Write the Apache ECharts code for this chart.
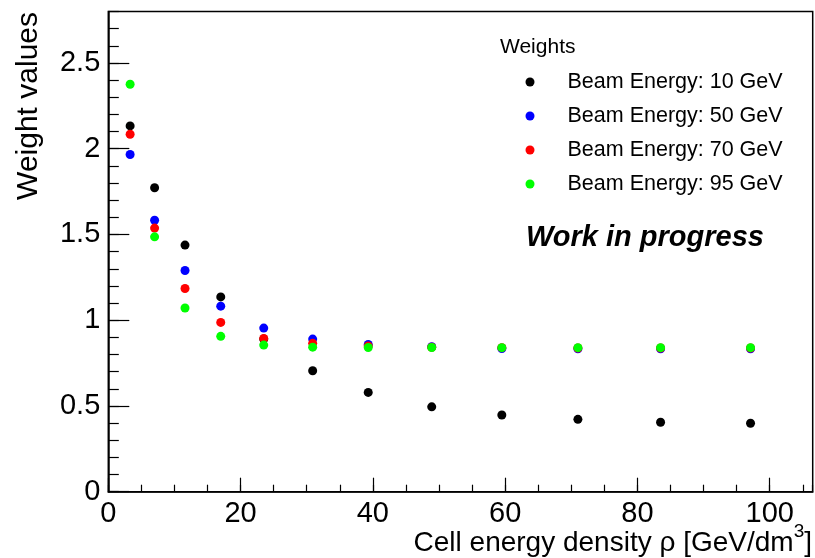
<!DOCTYPE html>
<html>
<head>
<meta charset="utf-8">
<script src="https://cdn.jsdelivr.net/npm/echarts@6/dist/echarts.min.js"></script>
<style>
  html, body { margin: 0; padding: 0; background: #fff; }
  #chart { width: 815px; height: 558px; }
</style>
</head>
<body>
<div id="chart"></div>
<script>
  // cell energy density bin centres (GeV/dm^3)
  var xCenters = [3.3, 7.0, 11.6, 17.0, 23.5, 30.9, 39.3, 48.9, 59.5, 71.0, 83.5, 97.1];
  // weights per beam energy
  var w10 = [2.133, 1.772, 1.438, 1.136, 0.890, 0.705, 0.579, 0.495, 0.447, 0.422, 0.405, 0.399];
  var w50 = [1.966, 1.583, 1.290, 1.082, 0.954, 0.890, 0.859, 0.845, 0.835, 0.833, 0.833, 0.833];
  var w70 = [2.084, 1.537, 1.185, 0.987, 0.894, 0.865, 0.850, 0.842, 0.840, 0.838, 0.838, 0.838];
  var w95 = [2.376, 1.486, 1.071, 0.906, 0.855, 0.843, 0.841, 0.841, 0.840, 0.840, 0.840, 0.840];
  var seriesNames = ['Beam Energy: 10 GeV', 'Beam Energy: 50 GeV', 'Beam Energy: 70 GeV', 'Beam Energy: 95 GeV'];
  var seriesColors = ['#000000', '#0000ff', '#ff0000', '#00ff00'];

  var font = '"Liberation Sans", Arial, Helvetica, sans-serif';

  function pairs(ys) {
    return xCenters.map(function (x, i) { return [x, ys[i]]; });
  }

  var chart = echarts.init(document.getElementById('chart'));

  var allW = [w10, w50, w70, w95];
  var series = allW.map(function (ys, i) {
    return {
      name: seriesNames[i],
      type: 'scatter',
      xAxisIndex: 0,
      yAxisIndex: 0,
      symbol: 'circle',
      symbolSize: 9,
      itemStyle: { color: seriesColors[i], opacity: 1 },
      data: pairs(ys)
    };
  });

  var tickStyle = { color: '#000', width: 1.2 };

  chart.setOption({
    animation: false,
    backgroundColor: '#fff',
    grid: {
      left: 108.3, right: 2.3, top: 11.5, bottom: 66.3,
      show: true, borderColor: '#000', borderWidth: 1.5, backgroundColor: 'transparent'
    },
    title: [
      {
        text: 'Weights', left: 500, top: 37, padding: 0,
        textStyle: { fontSize: 21, fontWeight: 'normal', color: '#000', fontFamily: font }
      },
      {
        text: 'Work in progress', left: 526, top: 223, padding: 0,
        textStyle: { fontSize: 29, fontWeight: 'bold', fontStyle: 'italic', color: '#000', fontFamily: font }
      }
    ],
    legend: {
      data: seriesNames,
      orient: 'vertical',
      left: 525.5,
      top: 71,
      padding: 0,
      itemGap: 12,
      itemWidth: 9,
      itemHeight: 9,
      icon: 'circle',
      textStyle: { fontSize: 21.5, color: '#000', fontFamily: font, padding: [0, 0, 0, 28] }
    },
    xAxis: [
      {
        type: 'value', min: 0, max: 106.5, interval: 20, position: 'bottom',
        axisLine: { onZero: false, lineStyle: { color: '#000', width: 1.5 } },
        axisTick: { inside: true, length: 14, lineStyle: tickStyle },
        axisLabel: { showMaxLabel: false, margin: 8, fontSize: 29, color: '#000', fontFamily: font },
        splitLine: { show: false }
      },
      {
        type: 'value', min: 0, max: 106.5, interval: 5, position: 'bottom',
        axisLine: { show: false },
        axisTick: { inside: true, length: 7, lineStyle: tickStyle },
        axisLabel: { show: false },
        splitLine: { show: false }
      }
    ],
    yAxis: [
      {
        type: 'value', min: 0, max: 2.8, interval: 0.5, position: 'left',
        axisLine: { show: true, onZero: false, lineStyle: { color: '#000', width: 1.5 } },
        axisTick: { show: true, inside: true, length: 21, lineStyle: tickStyle },
        axisLabel: { showMaxLabel: false, margin: 8, fontSize: 29, color: '#000', fontFamily: font },
        splitLine: { show: false }
      },
      {
        type: 'value', min: 0, max: 2.8, interval: 0.1, position: 'left',
        axisLine: { show: false },
        axisTick: { show: true, inside: true, length: 10.5, lineStyle: tickStyle },
        axisLabel: { show: false },
        splitLine: { show: false }
      }
    ],
    graphic: [
      {
        type: 'text', x: 29, y: 12, rotation: Math.PI / 2,
        style: {
          text: 'Weight values', fill: '#000', align: 'right', verticalAlign: 'middle',
          font: '30px ' + font
        }
      },
      {
        type: 'text', x: 812, y: 543.5,
        style: {
          text: '{a|Cell energy density ρ [GeV/dm}{s|3}{a|]}',
          align: 'right', verticalAlign: 'middle',
          rich: {
            a: { fontSize: 28, fontFamily: font, fill: '#000', lineHeight: 42, verticalAlign: 'middle' },
            s: { fontSize: 19, fontFamily: font, fill: '#000', lineHeight: 19, verticalAlign: 'top' }
          }
        }
      }
    ],
    series: series
  });
</script>
</body>
</html>
